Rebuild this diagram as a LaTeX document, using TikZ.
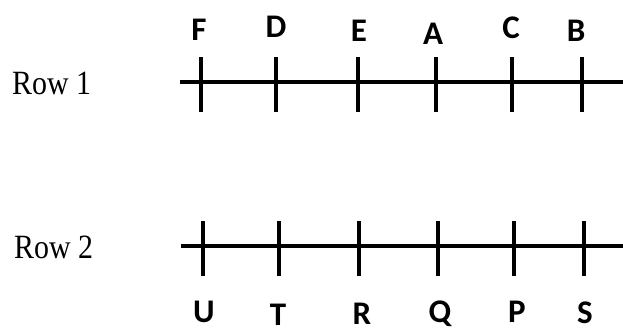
\documentclass[tikz,border=0pt]{standalone}
\usepackage{fontspec}
\setmainfont{Liberation Serif}
\newfontfamily\lblfont{Carlito}
\begin{document}
\begin{tikzpicture}[x=1pt,y=-1pt,
  axisline/.style={line width=4.3pt,black},
  tickline/.style={line width=4pt,black},
  rowlabel/.style={anchor=base west,inner sep=0pt,font=\fontsize{34}{38}\selectfont,xscale=0.88},
  letter/.style={anchor=base,inner sep=0pt,font=\lblfont\bfseries\fontsize{33}{36}\selectfont}]
\useasboundingbox (0,0) rectangle (623,332);
% Row 1
\node[rowlabel] (row1) at (12,94) {Row 1};
\coordinate (l1s) at (180,82);
\coordinate (l1e) at (623,82);
\draw[axisline] (l1s) -- (l1e);
\foreach \x/\n in {201/F,276/D,358/E,436/A,512/C,582/B}{
  \coordinate (t1\n a) at (\x,57);
  \coordinate (t1\n b) at (\x,112);
  \draw[tickline] (t1\n a) -- (t1\n b);
}
\node[letter] (F) at (199,40) {F};
\node[letter] (D) at (276,37) {D};
\node[letter] (E) at (359,41.5) {E};
\node[letter] (A) at (433,44) {A};
\node[letter] (C) at (511,38) {C};
\node[letter] (B) at (576,41) {B};
% Row 2
\node[rowlabel] (row2) at (14,258) {Row 2};
\coordinate (l2s) at (181,246);
\coordinate (l2e) at (623,246);
\draw[axisline] (l2s) -- (l2e);
\foreach \x/\n in {203/U,279/T,359/R,438/Q,514/P,584/S}{
  \coordinate (t2\n a) at (\x,221);
  \coordinate (t2\n b) at (\x,276);
  \draw[tickline] (t2\n a) -- (t2\n b);
}
\node[letter] (U) at (204,322.5) {U};
\node[letter] (T) at (278,325) {T};
\node[letter] (R) at (362,324.5) {R};
\node[letter] (Q) at (440,322.5) {Q};
\node[letter] (P) at (517,322.5) {P};
\node[letter] (S) at (585,323.5) {S};
\end{tikzpicture}
\end{document}
